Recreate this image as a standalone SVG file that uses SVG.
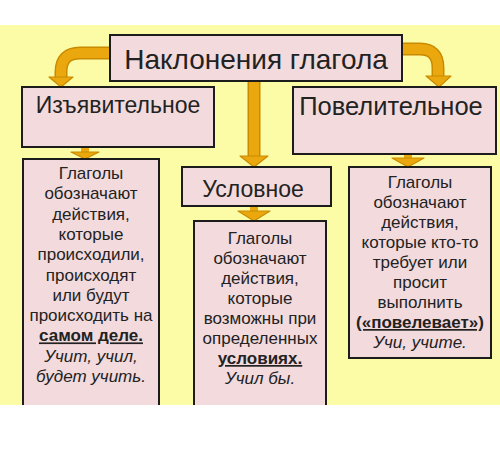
<svg xmlns="http://www.w3.org/2000/svg" width="500" height="454" viewBox="0 0 500 454">
<style>
.box{fill:#f2dadd;stroke:#1c1c1c;stroke-width:2}
.t{font-family:"Liberation Sans",Arial,sans-serif;fill:#222;text-anchor:middle}
.b{font-size:17px}
.bu{font-weight:bold;text-decoration:underline}
.it{font-style:italic}
.band-o{fill:none;stroke:#c98a00;stroke-width:13}
.band{fill:none;stroke:#eaa80e;stroke-width:10}
.head{fill:#eaa80e;stroke:#c98a00;stroke-width:1.2;stroke-linejoin:round}
</style>
<rect x="0" y="0" width="500" height="454" fill="#ffffff"/>
<rect x="0" y="25" width="500" height="380" fill="#fdfca6"/>
<g id="connectors">
<path class="band-o" d="M111,53 H80 Q61,53 61,72 V78"/>
<path class="band" d="M111,53 H80 Q61,53 61,72 V78"/>
<polygon class="head" points="49,77 73,77 61,87"/>
<path class="band-o" d="M401,49 H420 Q438,49 438,68 V77"/>
<path class="band" d="M401,49 H420 Q438,49 438,68 V77"/>
<polygon class="head" points="426,76 451,76 439,87"/>
<path class="band-o" d="M254,82 V157"/>
<path class="band" d="M254,82 V157"/>
<polygon class="head" points="240,156 268,156 254,167"/>
<rect x="81" y="148" width="8" height="5" fill="#eaa80e"/>
<polygon class="head" points="71,152 99,152 85,159"/>
<rect x="404" y="155" width="8" height="4" fill="#eaa80e"/>
<polygon class="head" points="392,158 424,158 408,167"/>
<rect x="250" y="207" width="8" height="5" fill="#eaa80e"/>
<polygon class="head" points="238,211 270,211 254,221"/>
</g>
<g id="title">
<rect class="box" x="110" y="35" width="292" height="46"/>
<text class="t" x="256" y="69" font-size="28">Наклонения глагола</text>
</g>
<g id="izyav">
<rect class="box" x="22" y="87" width="192" height="60"/>
<text class="t" x="118" y="113" font-size="23">Изъявительное</text>
</g>
<g id="povel">
<rect class="box" x="293" y="87" width="203" height="67"/>
<text class="t" x="391" y="115" font-size="25.5">Повелительное</text>
</g>
<g id="uslov">
<rect class="box" x="182" y="167" width="149" height="39"/>
<text class="t" x="253" y="197" font-size="23">Условное</text>
</g>
<g id="izyav-text">
<path class="box" d="M23,405 V159 H159 V405"/>
<text class="t b" x="91" y="179">Глаголы</text>
<text class="t b" x="91" y="199.3">обозначают</text>
<text class="t b" x="91" y="219.6">действия,</text>
<text class="t b" x="91" y="239.9">которые</text>
<text class="t b" x="91" y="260.2">происходили,</text>
<text class="t b" x="91" y="280.5">происходят</text>
<text class="t b" x="91" y="300.8">или будут</text>
<text class="t b" x="91" y="321.1">происходить на</text>
<text class="t b bu" x="91" y="341.4">самом деле.</text>
<text class="t b it" x="91" y="361.7">Учит, учил,</text>
<text class="t b it" x="91" y="382">будет учить.</text>
</g>
<g id="uslov-text">
<path class="box" d="M194,405 V221 H326 V405"/>
<text class="t b" x="260" y="244">Глаголы</text>
<text class="t b" x="260" y="264">обозначают</text>
<text class="t b" x="260" y="284">действия,</text>
<text class="t b" x="260" y="304">которые</text>
<text class="t b" x="260" y="324">возможны при</text>
<text class="t b" x="260" y="344">определенных</text>
<text class="t b bu" x="260" y="364">условиях.</text>
<text class="t b it" x="260" y="384">Учил бы.</text>
</g>
<g id="povel-text">
<rect class="box" x="349" y="167" width="142" height="191"/>
<text class="t b" x="420" y="188">Глаголы</text>
<text class="t b" x="420" y="208">обозначают</text>
<text class="t b" x="420" y="228">действия,</text>
<text class="t b" x="420" y="248">которые кто-то</text>
<text class="t b" x="420" y="268">требует или</text>
<text class="t b" x="420" y="288">просит</text>
<text class="t b" x="420" y="308">выполнить</text>
<text class="t b bu" x="420" y="328">(«повелевает»)</text>
<text class="t b it" x="420" y="348">Учи, учите.</text>
</g>
</svg>
